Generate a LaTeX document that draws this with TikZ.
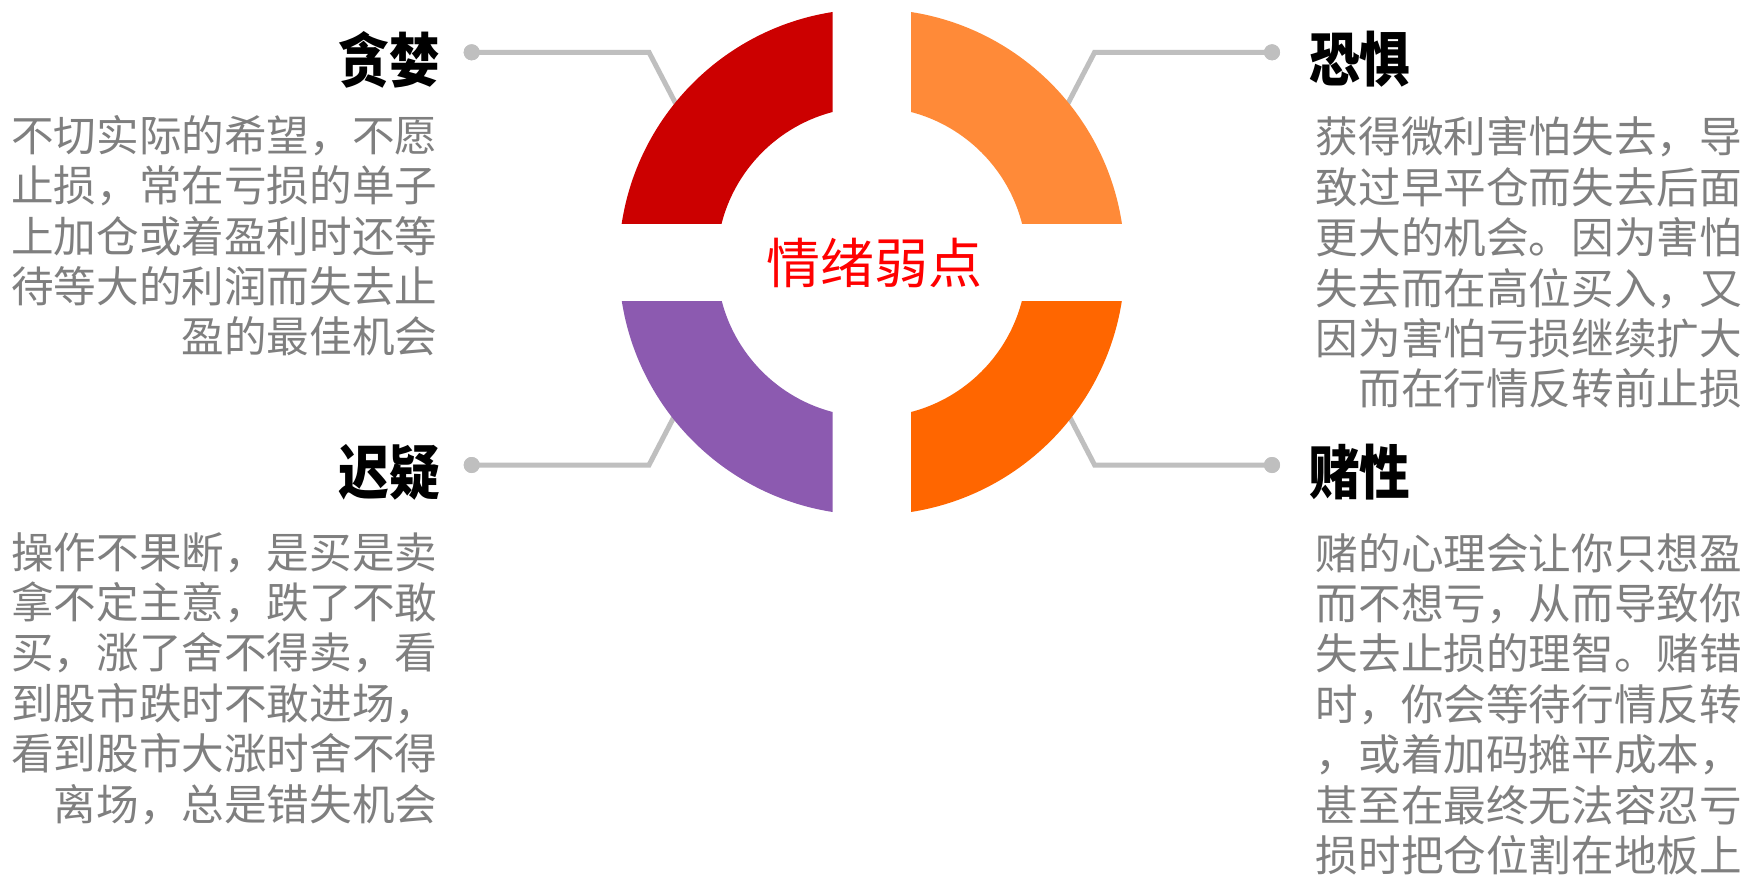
\documentclass[tikz,border=0pt]{standalone}
\usepackage{fontspec}
\newfontfamily\cjk{Noto Sans CJK SC}
\newfontfamily\cjktitle[FakeStretch=0.86]{Noto Sans CJK SC}
\definecolor{segred}{HTML}{CC0000}
\definecolor{segorange}{HTML}{FF8A38}
\definecolor{segdeep}{HTML}{FF6600}
\definecolor{segpurple}{HTML}{8C5AB0}
\definecolor{conngray}{HTML}{BFBFBF}
\definecolor{bodygray}{HTML}{7F7F7F}
\definecolor{centerred}{HTML}{FF0000}
\tikzset{
  conn/.style={draw=conngray, line width=5pt},
  dot/.style={circle, fill=conngray, inner sep=0pt, minimum size=16pt},
  titletext/.style={inner sep=0pt, text=black, font={\cjktitle\bfseries\fontsize{59}{62}\selectfont}},
  bodytext/.style={inner sep=0pt, align=right, text=bodygray, font={\cjk\fontsize{42.6}{50.4}\selectfont}},
}
\begin{document}
\begin{tikzpicture}[x=1pt,y=-1pt]
\useasboundingbox[fill=white] (0,0) rectangle (1746,875);
\coordinate (c) at (871.8,262);
% connectors (below ring)
\node[dot] (d1) at (471.7,52.3) {};
\coordinate (b1) at (649,52.3);
\coordinate (e1) at (690,131);
\node[dot] (d2) at (1272,52.3) {};
\coordinate (b2) at (1094.6,52.3);
\coordinate (e2) at (1053.6,131);
\node[dot] (d3) at (471.7,465) {};
\coordinate (b3) at (649,465);
\coordinate (e3) at (690,386);
\node[dot] (d4) at (1272,465) {};
\coordinate (b4) at (1094.6,465);
\coordinate (e4) at (1053.6,386);
\draw[conn] (d1.center) -- (b1) -- (e1);
\draw[conn] (d2.center) -- (b2) -- (e2);
\draw[conn] (d3.center) -- (b3) -- (e3);
\draw[conn] (d4.center) -- (b4) -- (e4);
\node[dot] at (d1) {};
\node[dot] at (d2) {};
\node[dot] at (d3) {};
\node[dot] at (d4) {};
% ring segments
\begin{scope}
  \clip (0,0) rectangle (832.6,223);
  \fill[segred,even odd rule] (c) circle[radius=253pt] (c) circle[radius=155pt];
\end{scope}
\begin{scope}
  \clip (911,0) rectangle (1746,223);
  \fill[segorange,even odd rule] (c) circle[radius=253pt] (c) circle[radius=155pt];
\end{scope}
\begin{scope}
  \clip (0,301) rectangle (832.6,875);
  \fill[segpurple,even odd rule] (c) circle[radius=253pt] (c) circle[radius=155pt];
\end{scope}
\begin{scope}
  \clip (911,301) rectangle (1746,875);
  \fill[segdeep,even odd rule] (c) circle[radius=253pt] (c) circle[radius=155pt];
\end{scope}
% center text
\node[inner sep=0pt, text=centerred, font={\cjk\fontsize{54}{58}\selectfont}] (ctr) at (874,263) {情绪弱点};
% titles
\node[titletext, anchor=east] (t1) at (440,60) {贪婪};
\node[titletext, anchor=west] (t2) at (1309,59) {恐惧};
\node[titletext, anchor=east] (t3) at (440,472) {迟疑};
\node[titletext, anchor=west] (t4) at (1309,472) {赌性};
% bodies
\node[bodytext, anchor=north east] (p1) at (437.5,115) {不切实际的希望，不愿\\止损，常在亏损的单子\\上加仓或着盈利时还等\\待等大的利润而失去止\\盈的最佳机会};
\node[bodytext, anchor=north east] (p2) at (1742,116.7) {获得微利害怕失去，导\\致过早平仓而失去后面\\更大的机会。因为害怕\\失去而在高位买入，又\\因为害怕亏损继续扩大\\而在行情反转前止损};
\node[bodytext, anchor=north east] (p3) at (437.5,532) {操作不果断，是买是卖\\拿不定主意，跌了不敢\\买，涨了舍不得卖，看\\到股市跌时不敢进场，\\看到股市大涨时舍不得\\离场，总是错失机会};
\node[bodytext, anchor=north east] (p4) at (1742,533) {赌的心理会让你只想盈\\而不想亏，从而导致你\\失去止损的理智。赌错\\时，你会等待行情反转\\，或着加码摊平成本，\\甚至在最终无法容忍亏\\损时把仓位割在地板上};
\end{tikzpicture}
\end{document}
